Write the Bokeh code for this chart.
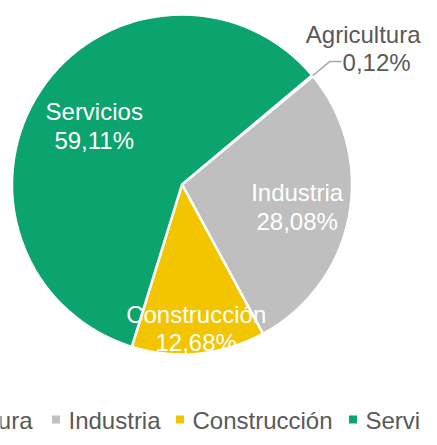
import numpy as np
from bokeh.plotting import figure
from bokeh.models import ColumnDataSource
from bokeh.core.properties import value
from bokeh.embed import file_html
from bokeh.resources import INLINE

# ---- data ----
categories = ["Agricultura", "Industria", "Construcción", "Servicios"]
shares = [0.12, 28.08, 12.68, 59.11]
share_labels = ["0,12%", "28,08%", "12,68%", "59,11%"]
colors = ["#7F7F7F", "#BFBFBF", "#F2C500", "#0BA36E"]

# ---- layout ----
W, H = 421, 429
CX, CY, R = 181.5, 245.0, 170.0
FIRST_ANGLE = 50.0          # degrees, clockwise from 12 o'clock
label_rfrac = [None, 0.69, 0.85, 0.62]
FONT = "Liberation Sans"
FS = "24px"
TXT = "#595959"
LINE_GAP = 28.5

p = figure(width=W, height=H, x_range=(0, W), y_range=(0, H),
           output_backend="svg", toolbar_location=None, min_border=0,
           x_axis_type=None, y_axis_type=None)
p.grid.visible = False
p.outline_line_color = None
p.background_fill_color = "white"
p.border_fill_color = "white"

vals = np.array(shares, dtype=float)
frac = vals / vals.sum()
theta_end = FIRST_ANGLE + np.cumsum(frac) * 360.0
theta_start = theta_end - frac * 360.0
theta_mid = (theta_start + theta_end) / 2.0

src = ColumnDataSource(dict(
    cat=categories, color=colors,
    start=np.radians(90.0 - theta_start), end=np.radians(90.0 - theta_end),
))
p.wedge(x=CX, y=CY, radius=R, start_angle="start", end_angle="end",
        direction="clock", fill_color="color", line_color="white",
        line_width=2.5, source=src)

# inside labels
lx, ly, ln, lp = [], [], [], []
for i in range(len(categories)):
    if label_rfrac[i] is None:
        continue
    t = np.radians(theta_mid[i])
    r = label_rfrac[i] * R
    lx.append(CX + r * np.sin(t)); ly.append(CY + r * np.cos(t))
    ln.append(categories[i]); lp.append(share_labels[i])
lsrc = ColumnDataSource(dict(x=lx, yn=[y + LINE_GAP / 2 for y in ly],
                             yp=[y - LINE_GAP / 2 for y in ly], n=ln, pc=lp))
for ycol, tcol in (("yn", "n"), ("yp", "pc")):
    p.text(x="x", y=ycol, text=tcol, source=lsrc, text_color="white",
           text_font=value(FONT), text_font_size=FS,
           text_align="center", text_baseline="middle")

# outside label (Agricultura) with leader line
t = np.radians(theta_mid[0])
sx, sy = CX + R * np.sin(t), CY + R * np.cos(t)
ex, ey = CX + 1.13 * R * np.sin(t), CY + 1.13 * R * np.cos(t)
hx = ex + 12
p.line(x=[sx, ex, hx], y=[sy, ey, ey], line_color="#A6A6A6", line_width=1.5)
p.text(x=[ex + 47], y=[ey - 1.0], text=[share_labels[0]], text_color=TXT,
       text_font=value(FONT), text_font_size=FS,
       text_align="center", text_baseline="middle")
p.text(x=[W - 1], y=[ey + LINE_GAP - 1.0], text=[categories[0]], text_color=TXT,
       text_font=value(FONT), text_font_size=FS,
       text_align="right", text_baseline="middle")

# legend (horizontal, wider than the chart, cut at both sides)
leg_text_x = [-82.7, 68.0, 192.0, 365.0]
leg_y = 9.0
msrc = ColumnDataSource(dict(x=[x - 12.5 for x in leg_text_x],
                             y=[leg_y + 1] * 4, color=colors))
p.scatter(x="x", y="y", marker="square", size=8, fill_color="color",
          line_color=None, source=msrc)
p.text(x=leg_text_x, y=[leg_y] * 4, text=categories, text_color=TXT,
       text_font=value(FONT), text_font_size=FS,
       text_align="left", text_baseline="middle")

open("out.html", "w").write(file_html(p, INLINE))
